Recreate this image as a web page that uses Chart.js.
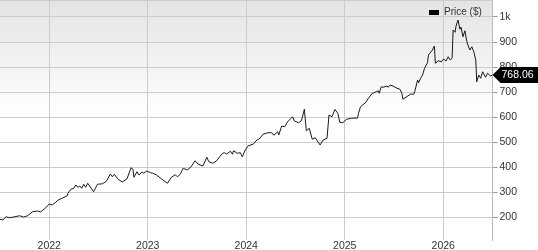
<!DOCTYPE html>
<html>
<head>
<meta charset="utf-8">
<script src="https://cdn.jsdelivr.net/npm/chart.js@4"></script>
<style>
  html, body { margin: 0; padding: 0; background: #fff; }
  #wrap { width: 538px; height: 250px; }
</style>
</head>
<body>
<div id="wrap"><canvas id="priceChart"></canvas></div>
<script>
// weekly-ish closes (x = decimal year)
var dates = [
  2021.50, 2021.53, 2021.56, 2021.60, 2021.65, 2021.70, 2021.74, 2021.78, 2021.83, 2021.88,
  2021.91, 2021.96, 2022.00, 2022.03, 2022.06, 2022.09, 2022.13, 2022.18, 2022.19, 2022.22,
  2022.25, 2022.27, 2022.29, 2022.31, 2022.33, 2022.35, 2022.37, 2022.39, 2022.41, 2022.45,
  2022.49, 2022.54, 2022.58, 2022.62, 2022.64, 2022.66, 2022.70, 2022.74, 2022.79, 2022.83,
  2022.85, 2022.86, 2022.89, 2022.91, 2022.94, 2022.96, 2022.99, 2023.03, 2023.05, 2023.09,
  2023.14, 2023.20, 2023.24, 2023.28, 2023.30, 2023.33, 2023.36, 2023.40, 2023.44, 2023.48,
  2023.51, 2023.56, 2023.60, 2023.62, 2023.66, 2023.70, 2023.73, 2023.76, 2023.78, 2023.80,
  2023.84, 2023.86, 2023.87, 2023.91, 2023.94, 2023.96, 2023.99, 2024.02, 2024.07, 2024.10,
  2024.14, 2024.17, 2024.22, 2024.26, 2024.28, 2024.32, 2024.33, 2024.36, 2024.39, 2024.42,
  2024.47, 2024.49, 2024.53, 2024.56, 2024.59, 2024.61, 2024.64, 2024.67, 2024.70, 2024.75,
  2024.78, 2024.82, 2024.84, 2024.87, 2024.90, 2024.93, 2024.95, 2024.98, 2025.02, 2025.07,
  2025.13, 2025.14, 2025.16, 2025.21, 2025.24, 2025.28, 2025.32, 2025.34, 2025.35, 2025.37,
  2025.39, 2025.43, 2025.44, 2025.46, 2025.49, 2025.53, 2025.56, 2025.58, 2025.59, 2025.64,
  2025.67, 2025.70, 2025.71, 2025.74, 2025.75, 2025.77, 2025.79, 2025.81, 2025.84, 2025.85,
  2025.89, 2025.91, 2025.92, 2025.95, 2025.98, 2026.00, 2026.03, 2026.05, 2026.07, 2026.09,
  2026.10, 2026.12, 2026.13, 2026.15, 2026.17, 2026.18, 2026.20, 2026.22, 2026.24, 2026.25,
  2026.27, 2026.29, 2026.31, 2026.33, 2026.34, 2026.36, 2026.38, 2026.40, 2026.43, 2026.45,
  2026.48, 2026.50
];
var prices = [
  191, 188, 201, 197, 201, 205, 200, 205, 221, 224,
  220, 235, 252, 248, 257, 268, 275, 284, 295, 311,
  315, 328, 319, 324, 315, 331, 319, 335, 324, 301,
  331, 333, 343, 372, 361, 371, 351, 340, 353, 397,
  391, 359, 381, 368, 380, 375, 384, 377, 375, 368,
  352, 335, 359, 369, 361, 371, 395, 388, 401, 425,
  412, 404, 439, 421, 415, 425, 441, 455, 457, 452,
  463, 451, 465, 455, 457, 441, 468, 485, 491, 505,
  515, 531, 537, 537, 527, 541, 528, 564, 561, 581,
  601, 584, 577, 585, 631, 545, 555, 511, 517, 488,
  508, 515, 608, 601, 630, 615, 579, 577, 591, 595,
  596, 615, 641, 657, 675, 695, 701, 705, 695, 721,
  719, 724, 719, 728, 724, 715, 711, 695, 671, 684,
  692, 691, 701, 748, 737, 755, 768, 795, 817, 848,
  868, 884, 815, 825, 821, 831, 825, 841, 828, 835,
  948, 939, 964, 988, 951, 960, 921, 945, 901, 888,
  868, 881, 861, 828, 741, 768, 755, 781, 759, 775,
  764, 768.06
];
var yearTicks = [2022, 2023, 2024, 2025, 2026];
var priceTicks = [200, 300, 400, 500, 600, 700, 800, 900, 1000];
var seriesName = 'Price ($)';

var FONT = '"Liberation Sans", Arial, sans-serif';
var TXT = '#333333';
var GRID = '#cccccc';

var points = dates.map(function (d, i) { return { x: d, y: prices[i] }; });

var chartDecor = {
  id: 'chartDecor',
  beforeDraw: function (chart) {
    var c = chart.ctx, a = chart.chartArea;
    c.save();
    c.fillStyle = '#ffffff';
    c.fillRect(0, 0, chart.width, chart.height);
    var g = c.createLinearGradient(0, a.top, 0, a.top + 116);
    g.addColorStop(0, '#e4e4e4');
    g.addColorStop(1, '#ffffff');
    c.fillStyle = g;
    c.fillRect(a.left, a.top, a.right - a.left, 116);
    c.restore();
  },
  afterDraw: function (chart) {
    var c = chart.ctx, a = chart.chartArea;
    var ys = chart.scales.y;
    c.save();
    // top border
    c.strokeStyle = GRID;
    c.lineWidth = 1;
    c.beginPath();
    c.moveTo(a.left, a.top + 0.5);
    c.lineTo(a.right, a.top + 0.5);
    c.stroke();

    // legend
    c.fillStyle = '#000';
    c.fillRect(429, 10, 10, 5);
    c.fillStyle = TXT;
    c.font = '10px ' + FONT;
    c.textBaseline = 'middle';
    c.textAlign = 'left';
    c.fillText(seriesName, 444, 12.5);

    // last value flag
    var last = prices[prices.length - 1];
    var cy = Math.round(ys.getPixelForValue(last));
    var x0 = a.right;
    c.fillStyle = '#000';
    c.beginPath();
    c.moveTo(x0, cy);
    c.lineTo(x0 + 8, cy - 8);
    c.lineTo(chart.width, cy - 8);
    c.lineTo(chart.width, cy + 8);
    c.lineTo(x0 + 8, cy + 8);
    c.closePath();
    c.fill();
    c.fillStyle = '#fff';
    c.font = '10.5px ' + FONT;
    c.fillText(last.toFixed(2), x0 + 9, cy + 0.5);
    c.restore();
  }
};

var ctx = document.getElementById('priceChart').getContext('2d');
var priceChart = new Chart(ctx, {
  type: 'line',
  data: {
    datasets: [{
      label: seriesName,
      data: points,
      borderColor: '#1a1a1a',
      borderWidth: 1,
      pointRadius: 0,
      tension: 0,
      fill: false
    }]
  },
  options: {
    responsive: true,
    maintainAspectRatio: false,
    animation: false,
    layout: { padding: 0 },
    plugins: {
      legend: { display: false },
      tooltip: { enabled: false }
    },
    scales: {
      x: {
        type: 'linear',
        min: 2021.5,
        max: 2026.5,
        afterBuildTicks: function (s) {
          s.ticks = yearTicks.map(function (v) { return { value: v }; });
        },
        afterFit: function (s) {
          s.height = 10;
          s.paddingLeft = 0;
          s.paddingRight = 0;
        },
        grid: { color: GRID, drawTicks: false },
        border: { display: false },
        ticks: {
          color: TXT,
          font: { family: FONT, size: 10.5 },
          padding: 0,
          maxRotation: 0,
          autoSkip: false,
          callback: function (v) { return String(v); }
        }
      },
      y: {
        position: 'right',
        min: 108,
        max: 1068,
        afterBuildTicks: function (s) {
          s.ticks = priceTicks.map(function (v) { return { value: v }; });
        },
        afterFit: function (s) {
          s.width = 45.5;
          s.paddingTop = 0;
          s.paddingBottom = 0;
        },
        grid: { color: GRID, tickLength: 5, tickColor: '#999999' },
        border: { display: true, color: '#bbbbbb' },
        ticks: {
          color: TXT,
          font: { family: FONT, size: 10.5 },
          padding: 2,
          callback: function (v) { return v === 1000 ? '1k' : String(v); }
        }
      }
    }
  },
  plugins: [chartDecor]
});
</script>
</body>
</html>
